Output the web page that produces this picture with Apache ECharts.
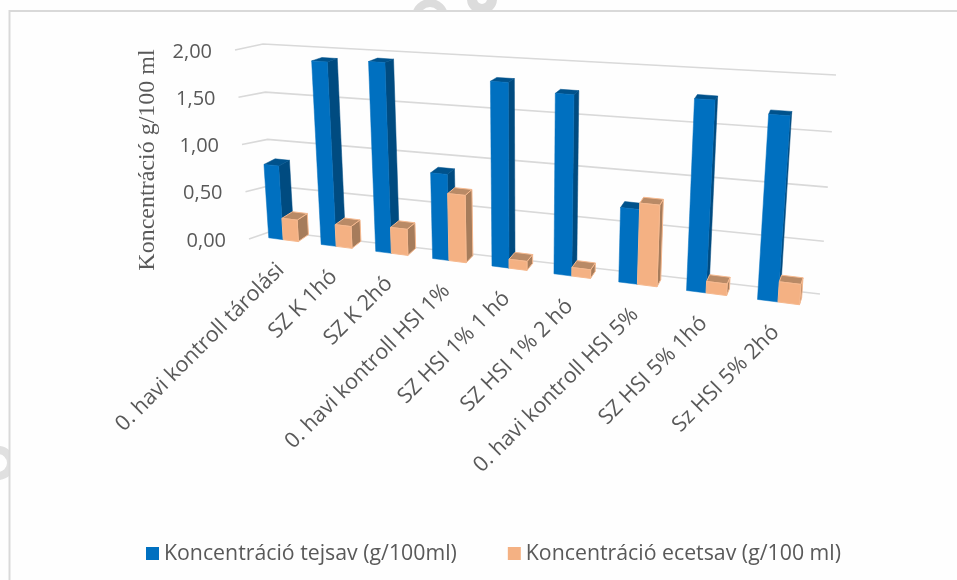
<!DOCTYPE html>
<html>
<head>
<meta charset="utf-8">
<style>html,body{margin:0;padding:0;background:#fefefe}#chart{width:957px;height:580px}</style>
<script src="https://cdn.jsdelivr.net/npm/echarts@6/dist/echarts.min.js"></script>
</head>
<body>
<div id="chart"></div>
<script>
// Lactic and acetic acid concentration per storage sample
const categories = ['0. havi kontroll tárolási','SZ K 1hó','SZ K 2hó','0. havi kontroll HSI 1%','SZ HSI 1% 1 hó','SZ HSI 1% 2 hó','0. havi kontroll HSI 5%','SZ HSI 5% 1hó','Sz HSI 5% 2hó'];
const tejsav = [0.785,1.88,1.91,0.87,1.80,1.73,0.72,1.77,1.68];
const ecetsav = [0.23,0.23,0.27,0.68,0.09,0.085,0.78,0.11,0.19];
const valueTicks = [0,0.5,1,1.5,2];
const seriesNames = ['Koncentráció tejsav (g/100ml)','Koncentráció ecetsav (g/100 ml)'];
const yTitle = 'Koncentráció g/100 ml';

// Projective map of the unit square onto a quadrilateral (corners: u0v0, u1v0, u1v1, u0v1)
function makeHomography(p00,p10,p11,p01){
  const dx1=p10[0]-p11[0],dx2=p01[0]-p11[0],sx=p00[0]-p10[0]+p11[0]-p01[0];
  const dy1=p10[1]-p11[1],dy2=p01[1]-p11[1],sy=p00[1]-p10[1]+p11[1]-p01[1];
  const det=dx1*dy2-dx2*dy1;
  const g=(sx*dy2-dx2*sy)/det,h=(dx1*sy-sx*dy1)/det;
  const a=p10[0]-p00[0]+g*p10[0],b=p01[0]-p00[0]+h*p01[0],c=p00[0];
  const d=p10[1]-p00[1]+g*p10[1],e=p01[1]-p00[1]+h*p01[1],f=p00[1];
  return (u,v)=>{const w=g*u+h*v+1;return [(a*u+b*v+c)/w,(d*u+e*v+f)/w];};
}
// Chart planes of the tilted 3D view
const backWall = makeHomography([272,231],[820,294],[836,75],[263,44]);
const frontPlane = makeHomography([258,236.5],[816,306.8],[833,80.8],[245,44.5]);
const backPlane  = makeHomography([269,229.5],[818,300],[834,77],[257,41.5]);
const foreshorten = u=>u/(1+0.025*(1-u));
const barFront = (u,v)=>frontPlane(foreshorten(u),v);
const barBack  = (u,v)=>backPlane(foreshorten(u),v);
const sideEnd  = v=>[249-14*v,239-189*v];

const unit=(api,params,x,y)=>{
  const p=api.coord([x,y]),c=params.coordSys;
  return [(p[0]-c.x)/c.width,1-(p[1]-c.y)/c.height];
};
const poly=(points,fill,stroke)=>({type:'polygon',shape:{points},style:{fill,stroke:stroke||fill,lineWidth:stroke?1:0.5}});

function barRenderer(from,to,front,side,top,edge){
  return (params,api)=>{
    const i=api.value(0),val=api.value(1);
    const a=unit(api,params,i+from,val),b=unit(api,params,i+to,0);
    const F=barFront,B=barBack;
    return {type:'group',children:[
      poly([F(b[0],b[1]),B(b[0],b[1]),B(b[0],a[1]),F(b[0],a[1])],side,edge),
      poly([F(a[0],a[1]),F(b[0],a[1]),B(b[0],a[1]),B(a[0],a[1])],top,edge),
      poly([F(a[0],b[1]),F(b[0],b[1]),F(b[0],a[1]),F(a[0],a[1])],front,edge)
    ]};
  };
}

const chart=echarts.init(document.getElementById('chart'));
chart.setOption({
  animation:false,
  backgroundColor:'#fefefe',
  graphic:[
    // page decoration behind the chart frame
    {type:'arc',shape:{cx:430,cy:17,r:14,startAngle:Math.PI,endAngle:2*Math.PI},style:{fill:'none',stroke:'#dcdcdc',lineWidth:8},silent:true},
    {type:'circle',shape:{cx:482,cy:-1,r:10},style:{fill:'none',stroke:'#dcdcdc',lineWidth:10},silent:true},
    {type:'circle',shape:{cx:-2,cy:463,r:13},style:{fill:'none',stroke:'#e0e0e0',lineWidth:8},silent:true},
    {type:'rect',shape:{x:9.5,y:11,width:1000,height:1000},style:{fill:'#fefefe',stroke:'#d9d9d9',lineWidth:2},silent:true},
    {type:'text',x:148,y:160,rotation:Math.PI/2,style:{text:yTitle,textAlign:'center',textVerticalAlign:'middle',fontFamily:'Liberation Serif',fontSize:24,fill:'#595959'},silent:true}
  ],
  grid:{left:100,right:100,top:100,bottom:100},
  xAxis:{type:'value',min:0,max:categories.length,show:false},
  yAxis:{type:'value',min:0,max:2,interval:0.5,show:false},
  legend:{
    data:seriesNames,left:141,top:538,icon:'rect',itemWidth:13,itemHeight:13,itemGap:51,
    textStyle:{fontFamily:'Open Sans',fontSize:21.3,color:'#595959'}
  },
  series:[
    {type:'custom',silent:true,data:valueTicks.map(v=>[v]),encode:{x:-1,y:0},z:1,
      renderItem(params,api){
        const v=api.value(0),c=unit(api,params,0,v);
        const t=sideEnd(c[1]),L=backWall(0,c[1]),R=backWall(1,c[1]);
        return {type:'group',children:[
          {type:'polyline',shape:{points:[t,L,R]},style:{fill:'none',stroke:'#d9d9d9',lineWidth:1.6}},
          {type:'text',style:{x:t[0]-23,y:t[1]+2,text:v.toFixed(2).replace('.',','),textAlign:'right',textVerticalAlign:'middle',fontFamily:'Open Sans',fontSize:20,fill:'#595959'}}
        ]};
      }},
    {name:seriesNames[0],type:'custom',data:tejsav.map((v,i)=>[i,v]),itemStyle:{color:'#0070c0'},z:2,
      renderItem:barRenderer(0.21,0.49,'#0070c0','#004b80','#00528c')},
    {name:seriesNames[1],type:'custom',data:ecetsav.map((v,i)=>[i,v]),itemStyle:{color:'#f4b183'},z:3,
      renderItem:barRenderer(0.49,0.78,'#f4b183','#a67c5b','#b98a66','#f6b98f')},
    {type:'custom',silent:true,data:categories.map((c,i)=>[i]),encode:{x:0,y:-1},z:4,
      renderItem(params,api){
        const i=api.value(0),c=unit(api,params,i+0.5,0),p=barFront(c[0],c[1]);
        const ax=p[0]-3,ay=p[1]+27;
        return {type:'text',x:ax,y:ay,rotation:Math.PI/4,style:{x:0,y:0,text:categories[i],textAlign:'right',textVerticalAlign:'middle',fontFamily:'Open Sans',fontSize:21.5,fill:'#595959'}};
      }}
  ]
});
</script>
</body>
</html>
